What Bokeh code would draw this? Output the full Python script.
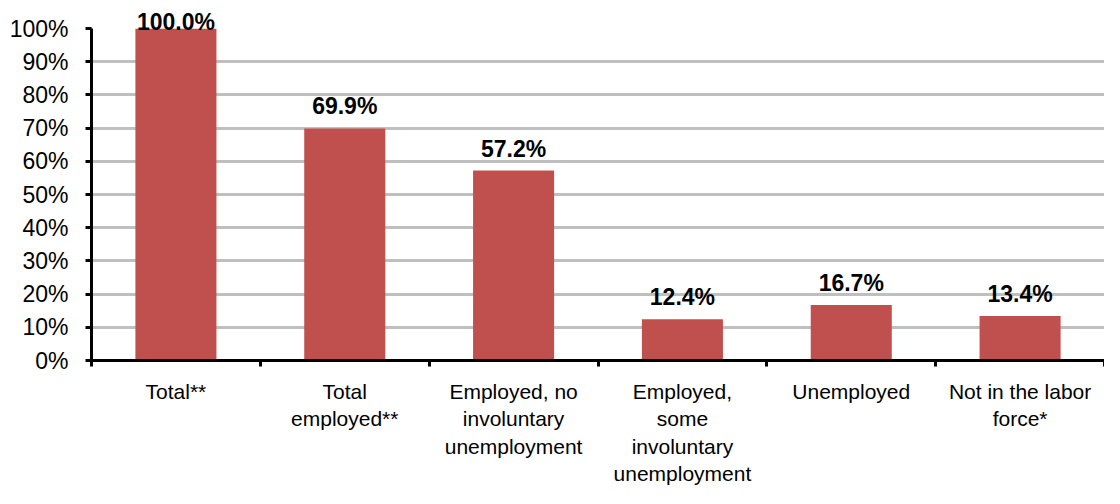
from bokeh.plotting import figure
from bokeh.models import Range1d, FixedTicker, ColumnDataSource
from bokeh.embed import file_html
from bokeh.resources import INLINE
from bokeh.core.properties import value

categories = ["Total**", "Total\nemployed**", "Employed, no\ninvoluntary\nunemployment",
              "Employed,\nsome\ninvoluntary\nunemployment", "Unemployed", "Not in the labor\nforce*"]
values = [100.0, 69.9, 57.2, 12.4, 16.7, 13.4]
y_ticks = [0, 10, 20, 30, 40, 50, 60, 70, 80, 90, 100]

n = len(categories)
xs = [i + 0.5 for i in range(n)]
labels = ["%.1f%%" % v for v in values]
# labels are kept inside the plot area (as the source chart does for the tallest bar)
label_y = [min(v, 95.2) for v in values]
src = ColumnDataSource(dict(x=xs, top=values, label=labels, ly=label_y))

FONT = "Liberation Sans"
p = figure(width=1104, height=488, output_backend="svg", toolbar_location=None,
           x_range=Range1d(0, n), y_range=Range1d(0, 100))
p.min_border_left = 91
p.min_border_right = 0
p.min_border_top = 28
p.min_border_bottom = 100
p.outline_line_color = None
p.background_fill_color = "white"
p.border_fill_color = "white"

p.vbar(x="x", top="top", bottom=0, width=0.48, source=src,
       fill_color="#C0504D", line_color=None)
p.text(x="x", y="ly", text="label", source=src, text_align="center",
       text_baseline="alphabetic", y_offset=-22, level="overlay",
       text_font=value(FONT), text_font_style="bold", text_font_size="23px",
       text_color="black")

# y axis
p.yaxis.ticker = FixedTicker(ticks=y_ticks)
p.yaxis.major_label_overrides = {t: "%d%%" % t for t in y_ticks}
p.yaxis.axis_line_width = 3
p.yaxis.axis_line_color = "black"
p.yaxis.major_tick_line_width = 3
p.yaxis.major_tick_out = 6
p.yaxis.major_tick_in = 0
p.yaxis.minor_tick_line_color = None
p.yaxis.major_label_text_font = FONT
p.yaxis.major_label_text_font_size = "23px"
p.yaxis.major_label_text_color = "black"
p.yaxis.major_label_standoff = 17

# x axis
p.xaxis.ticker = FixedTicker(ticks=xs, minor_ticks=list(range(n + 1)))
p.xaxis.major_label_overrides = {x: c for x, c in zip(xs, categories)}
p.xaxis.axis_line_width = 3
p.xaxis.axis_line_color = "black"
p.xaxis.major_tick_line_color = None
p.xaxis.major_tick_out = 6
p.xaxis.minor_tick_out = 6
p.xaxis.minor_tick_in = 0
p.xaxis.minor_tick_line_width = 3
p.xaxis.minor_tick_line_color = "black"
p.xaxis.major_label_text_font = FONT
p.xaxis.major_label_text_font_size = "21px"
p.xaxis.major_label_text_color = "black"
p.xaxis.major_label_standoff = 13

p.xgrid.grid_line_color = None
p.ygrid.grid_line_color = "#BFBFBF"
p.ygrid.grid_line_width = 3

open("out.html", "w").write(file_html(p, INLINE))
